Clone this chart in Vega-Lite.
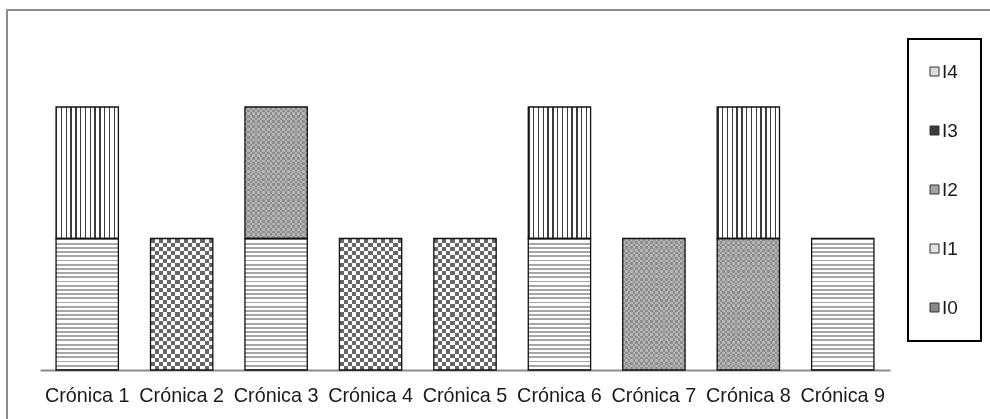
{
  "$schema": "https://vega.github.io/schema/vega-lite/v6.json",
  "autosize": "none",
  "padding": {"left": 7, "top": 10, "right": 0, "bottom": 0},
  "width": 1000,
  "height": 420,
  "background": "#ffffff",
  "config": {
    "view": {"stroke": "#8c8c8c", "strokeWidth": 2},
    "font": "Liberation Sans",
    "legend": {"strokeWidth": 2}
  },
  "data": {
    "values": [
      {"cronica": "Crónica 1", "series": "I1", "value": 1},
      {"cronica": "Crónica 1", "series": "I4", "value": 1},
      {"cronica": "Crónica 2", "series": "I0", "value": 1},
      {"cronica": "Crónica 3", "series": "I1", "value": 1},
      {"cronica": "Crónica 3", "series": "I2", "value": 1},
      {"cronica": "Crónica 4", "series": "I0", "value": 1},
      {"cronica": "Crónica 5", "series": "I0", "value": 1},
      {"cronica": "Crónica 6", "series": "I1", "value": 1},
      {"cronica": "Crónica 6", "series": "I4", "value": 1},
      {"cronica": "Crónica 7", "series": "I2", "value": 1},
      {"cronica": "Crónica 8", "series": "I2", "value": 1},
      {"cronica": "Crónica 8", "series": "I4", "value": 1},
      {"cronica": "Crónica 9", "series": "I1", "value": 1}
    ]
  },
  "transform": [
    {"stack": "value", "groupby": ["cronica"], "sort": [{"field": "series", "order": "ascending"}], "as": ["v0", "v1"]}
  ],
  "encoding": {
    "x": {
      "field": "cronica",
      "type": "nominal",
      "sort": null,
      "scale": {"range": [33, 883], "paddingInner": 0.34, "paddingOuter": 0.17},
      "axis": {
        "title": null,
        "labelAngle": 0,
        "ticks": false,
        "domainColor": "#8c8c8c",
        "domainWidth": 2,
        "labelFontSize": 19.8,
        "labelFont": "Liberation Sans",
        "labelColor": "#1a1a1a",
        "labelPadding": 15,
        "offset": -60
      }
    },
    "y": {
      "field": "v0",
      "type": "quantitative",
      "scale": {"domain": [0, 2], "range": [360, 97], "nice": false, "zero": true},
      "axis": null
    },
    "y2": {"field": "v1"}
  },
  "layer": [
    {
      "mark": {"type": "bar", "strokeWidth": 0},
      "encoding": {
        "color": {
          "field": "series",
          "type": "nominal",
          "scale": {
            "domain": ["I4", "I3", "I2", "I1", "I0"],
            "range": ["#dcdcdc", "#3a3a3a", "#a2a2a2", "#e2e2e2", "#8a8a8a"]
          },
          "legend": {
            "orient": "none",
            "legendX": 901,
            "legendY": 29,
            "title": null,
            "symbolType": "square",
            "symbolSize": 81,
            "symbolStrokeColor": "#333",
            "symbolStrokeWidth": 1,
            "symbolOffset": -6,
            "labelFontSize": 19,
            "labelFont": "Liberation Sans",
            "labelColor": "#1a1a1a",
            "labelOffset": -2,
            "rowPadding": 39,
            "padding": 23,
            "strokeColor": "#000",
            "fillColor": "#fff"
          }
        }
      }
    },
    {
      "transform": [{"filter": "datum.series === 'I4'"}],
      "mark": {
        "type": "bar",
        "strokeWidth": 0,
        "fill": {"gradient": "linear", "x1": 0, "y1": 0, "x2": 1, "y2": 0, "stops": [
          {"offset": 0, "color": "#3c3c3c"}, {"offset": 0.022, "color": "#3c3c3c"}, {"offset": 0.022, "color": "#fff"}, {"offset": 0.077, "color": "#fff"},
          {"offset": 0.077, "color": "#3c3c3c"}, {"offset": 0.099, "color": "#3c3c3c"}, {"offset": 0.099, "color": "#fff"}, {"offset": 0.154, "color": "#fff"},
          {"offset": 0.154, "color": "#3c3c3c"}, {"offset": 0.176, "color": "#3c3c3c"}, {"offset": 0.176, "color": "#fff"}, {"offset": 0.231, "color": "#fff"},
          {"offset": 0.231, "color": "#3c3c3c"}, {"offset": 0.253, "color": "#3c3c3c"}, {"offset": 0.253, "color": "#fff"}, {"offset": 0.308, "color": "#fff"},
          {"offset": 0.308, "color": "#3c3c3c"}, {"offset": 0.33, "color": "#3c3c3c"}, {"offset": 0.33, "color": "#fff"}, {"offset": 0.385, "color": "#fff"},
          {"offset": 0.385, "color": "#3c3c3c"}, {"offset": 0.407, "color": "#3c3c3c"}, {"offset": 0.407, "color": "#fff"}, {"offset": 0.462, "color": "#fff"},
          {"offset": 0.462, "color": "#3c3c3c"}, {"offset": 0.484, "color": "#3c3c3c"}, {"offset": 0.484, "color": "#fff"}, {"offset": 0.539, "color": "#fff"},
          {"offset": 0.539, "color": "#3c3c3c"}, {"offset": 0.561, "color": "#3c3c3c"}, {"offset": 0.561, "color": "#fff"}, {"offset": 0.616, "color": "#fff"},
          {"offset": 0.616, "color": "#3c3c3c"}, {"offset": 0.638, "color": "#3c3c3c"}, {"offset": 0.638, "color": "#fff"}, {"offset": 0.693, "color": "#fff"},
          {"offset": 0.693, "color": "#3c3c3c"}, {"offset": 0.715, "color": "#3c3c3c"}, {"offset": 0.715, "color": "#fff"}, {"offset": 0.77, "color": "#fff"},
          {"offset": 0.77, "color": "#3c3c3c"}, {"offset": 0.792, "color": "#3c3c3c"}, {"offset": 0.792, "color": "#fff"}, {"offset": 0.847, "color": "#fff"},
          {"offset": 0.847, "color": "#3c3c3c"}, {"offset": 0.869, "color": "#3c3c3c"}, {"offset": 0.869, "color": "#fff"}, {"offset": 0.924, "color": "#fff"},
          {"offset": 0.924, "color": "#3c3c3c"}, {"offset": 0.946, "color": "#3c3c3c"}, {"offset": 0.946, "color": "#fff"}, {"offset": 1, "color": "#fff"}
        ]}
      }
    },
    {
      "transform": [{"filter": "datum.series === 'I1'"}],
      "mark": {
        "type": "bar",
        "strokeWidth": 0,
        "fill": {"gradient": "linear", "x1": 0, "y1": 0, "x2": 0, "y2": 1, "stops": [
          {"offset": 0, "color": "#a6a6a6"}, {"offset": 0.014, "color": "#a6a6a6"}, {"offset": 0.014, "color": "#fff"}, {"offset": 0.032, "color": "#fff"},
          {"offset": 0.032, "color": "#a6a6a6"}, {"offset": 0.046, "color": "#a6a6a6"}, {"offset": 0.046, "color": "#fff"}, {"offset": 0.064, "color": "#fff"},
          {"offset": 0.064, "color": "#a6a6a6"}, {"offset": 0.078, "color": "#a6a6a6"}, {"offset": 0.078, "color": "#fff"}, {"offset": 0.096, "color": "#fff"},
          {"offset": 0.096, "color": "#a6a6a6"}, {"offset": 0.11, "color": "#a6a6a6"}, {"offset": 0.11, "color": "#fff"}, {"offset": 0.128, "color": "#fff"},
          {"offset": 0.128, "color": "#a6a6a6"}, {"offset": 0.142, "color": "#a6a6a6"}, {"offset": 0.142, "color": "#fff"}, {"offset": 0.16, "color": "#fff"},
          {"offset": 0.16, "color": "#a6a6a6"}, {"offset": 0.174, "color": "#a6a6a6"}, {"offset": 0.174, "color": "#fff"}, {"offset": 0.192, "color": "#fff"},
          {"offset": 0.192, "color": "#a6a6a6"}, {"offset": 0.206, "color": "#a6a6a6"}, {"offset": 0.206, "color": "#fff"}, {"offset": 0.224, "color": "#fff"},
          {"offset": 0.224, "color": "#a6a6a6"}, {"offset": 0.238, "color": "#a6a6a6"}, {"offset": 0.238, "color": "#fff"}, {"offset": 0.256, "color": "#fff"},
          {"offset": 0.256, "color": "#a6a6a6"}, {"offset": 0.27, "color": "#a6a6a6"}, {"offset": 0.27, "color": "#fff"}, {"offset": 0.288, "color": "#fff"},
          {"offset": 0.288, "color": "#a6a6a6"}, {"offset": 0.302, "color": "#a6a6a6"}, {"offset": 0.302, "color": "#fff"}, {"offset": 0.32, "color": "#fff"},
          {"offset": 0.32, "color": "#a6a6a6"}, {"offset": 0.334, "color": "#a6a6a6"}, {"offset": 0.334, "color": "#fff"}, {"offset": 0.352, "color": "#fff"},
          {"offset": 0.352, "color": "#a6a6a6"}, {"offset": 0.366, "color": "#a6a6a6"}, {"offset": 0.366, "color": "#fff"}, {"offset": 0.384, "color": "#fff"},
          {"offset": 0.384, "color": "#a6a6a6"}, {"offset": 0.398, "color": "#a6a6a6"}, {"offset": 0.398, "color": "#fff"}, {"offset": 0.416, "color": "#fff"},
          {"offset": 0.416, "color": "#a6a6a6"}, {"offset": 0.43, "color": "#a6a6a6"}, {"offset": 0.43, "color": "#fff"}, {"offset": 0.448, "color": "#fff"},
          {"offset": 0.448, "color": "#a6a6a6"}, {"offset": 0.462, "color": "#a6a6a6"}, {"offset": 0.462, "color": "#fff"}, {"offset": 0.48, "color": "#fff"},
          {"offset": 0.48, "color": "#a6a6a6"}, {"offset": 0.494, "color": "#a6a6a6"}, {"offset": 0.494, "color": "#fff"}, {"offset": 0.512, "color": "#fff"},
          {"offset": 0.512, "color": "#a6a6a6"}, {"offset": 0.526, "color": "#a6a6a6"}, {"offset": 0.526, "color": "#fff"}, {"offset": 0.544, "color": "#fff"},
          {"offset": 0.544, "color": "#a6a6a6"}, {"offset": 0.558, "color": "#a6a6a6"}, {"offset": 0.558, "color": "#fff"}, {"offset": 0.576, "color": "#fff"},
          {"offset": 0.576, "color": "#a6a6a6"}, {"offset": 0.59, "color": "#a6a6a6"}, {"offset": 0.59, "color": "#fff"}, {"offset": 0.608, "color": "#fff"},
          {"offset": 0.608, "color": "#a6a6a6"}, {"offset": 0.622, "color": "#a6a6a6"}, {"offset": 0.622, "color": "#fff"}, {"offset": 0.64, "color": "#fff"},
          {"offset": 0.64, "color": "#a6a6a6"}, {"offset": 0.654, "color": "#a6a6a6"}, {"offset": 0.654, "color": "#fff"}, {"offset": 0.672, "color": "#fff"},
          {"offset": 0.672, "color": "#a6a6a6"}, {"offset": 0.686, "color": "#a6a6a6"}, {"offset": 0.686, "color": "#fff"}, {"offset": 0.704, "color": "#fff"},
          {"offset": 0.704, "color": "#a6a6a6"}, {"offset": 0.718, "color": "#a6a6a6"}, {"offset": 0.718, "color": "#fff"}, {"offset": 0.736, "color": "#fff"},
          {"offset": 0.736, "color": "#a6a6a6"}, {"offset": 0.75, "color": "#a6a6a6"}, {"offset": 0.75, "color": "#fff"}, {"offset": 0.768, "color": "#fff"},
          {"offset": 0.768, "color": "#a6a6a6"}, {"offset": 0.782, "color": "#a6a6a6"}, {"offset": 0.782, "color": "#fff"}, {"offset": 0.8, "color": "#fff"},
          {"offset": 0.8, "color": "#a6a6a6"}, {"offset": 0.814, "color": "#a6a6a6"}, {"offset": 0.814, "color": "#fff"}, {"offset": 0.832, "color": "#fff"},
          {"offset": 0.832, "color": "#a6a6a6"}, {"offset": 0.846, "color": "#a6a6a6"}, {"offset": 0.846, "color": "#fff"}, {"offset": 0.864, "color": "#fff"},
          {"offset": 0.864, "color": "#a6a6a6"}, {"offset": 0.878, "color": "#a6a6a6"}, {"offset": 0.878, "color": "#fff"}, {"offset": 0.896, "color": "#fff"},
          {"offset": 0.896, "color": "#a6a6a6"}, {"offset": 0.91, "color": "#a6a6a6"}, {"offset": 0.91, "color": "#fff"}, {"offset": 0.928, "color": "#fff"},
          {"offset": 0.928, "color": "#a6a6a6"}, {"offset": 0.942, "color": "#a6a6a6"}, {"offset": 0.942, "color": "#fff"}, {"offset": 0.96, "color": "#fff"},
          {"offset": 0.96, "color": "#a6a6a6"}, {"offset": 0.974, "color": "#a6a6a6"}, {"offset": 0.974, "color": "#fff"}, {"offset": 0.992, "color": "#fff"},
          {"offset": 0.992, "color": "#a6a6a6"}, {"offset": 1, "color": "#a6a6a6"}
        ]}
      }
    },
    {
      "transform": [{"filter": "datum.series === 'I2'"}],
      "mark": {
        "type": "bar",
        "strokeWidth": 0,
        "fill": {"gradient": "linear", "x1": 0, "y1": 0, "x2": 0, "y2": 1, "stops": [
          {"offset": 0, "color": "#000"}, {"offset": 0.02, "color": "#000"}, {"offset": 0.02, "color": "#fff"}, {"offset": 0.04, "color": "#fff"},
          {"offset": 0.04, "color": "#000"}, {"offset": 0.06, "color": "#000"}, {"offset": 0.06, "color": "#fff"}, {"offset": 0.08, "color": "#fff"},
          {"offset": 0.08, "color": "#000"}, {"offset": 0.1, "color": "#000"}, {"offset": 0.1, "color": "#fff"}, {"offset": 0.12, "color": "#fff"},
          {"offset": 0.12, "color": "#000"}, {"offset": 0.14, "color": "#000"}, {"offset": 0.14, "color": "#fff"}, {"offset": 0.16, "color": "#fff"},
          {"offset": 0.16, "color": "#000"}, {"offset": 0.18, "color": "#000"}, {"offset": 0.18, "color": "#fff"}, {"offset": 0.2, "color": "#fff"},
          {"offset": 0.2, "color": "#000"}, {"offset": 0.22, "color": "#000"}, {"offset": 0.22, "color": "#fff"}, {"offset": 0.24, "color": "#fff"},
          {"offset": 0.24, "color": "#000"}, {"offset": 0.26, "color": "#000"}, {"offset": 0.26, "color": "#fff"}, {"offset": 0.28, "color": "#fff"},
          {"offset": 0.28, "color": "#000"}, {"offset": 0.3, "color": "#000"}, {"offset": 0.3, "color": "#fff"}, {"offset": 0.32, "color": "#fff"},
          {"offset": 0.32, "color": "#000"}, {"offset": 0.34, "color": "#000"}, {"offset": 0.34, "color": "#fff"}, {"offset": 0.36, "color": "#fff"},
          {"offset": 0.36, "color": "#000"}, {"offset": 0.38, "color": "#000"}, {"offset": 0.38, "color": "#fff"}, {"offset": 0.4, "color": "#fff"},
          {"offset": 0.4, "color": "#000"}, {"offset": 0.42, "color": "#000"}, {"offset": 0.42, "color": "#fff"}, {"offset": 0.44, "color": "#fff"},
          {"offset": 0.44, "color": "#000"}, {"offset": 0.46, "color": "#000"}, {"offset": 0.46, "color": "#fff"}, {"offset": 0.48, "color": "#fff"},
          {"offset": 0.48, "color": "#000"}, {"offset": 0.5, "color": "#000"}, {"offset": 0.5, "color": "#fff"}, {"offset": 0.52, "color": "#fff"},
          {"offset": 0.52, "color": "#000"}, {"offset": 0.54, "color": "#000"}, {"offset": 0.54, "color": "#fff"}, {"offset": 0.56, "color": "#fff"},
          {"offset": 0.56, "color": "#000"}, {"offset": 0.58, "color": "#000"}, {"offset": 0.58, "color": "#fff"}, {"offset": 0.6, "color": "#fff"},
          {"offset": 0.6, "color": "#000"}, {"offset": 0.62, "color": "#000"}, {"offset": 0.62, "color": "#fff"}, {"offset": 0.64, "color": "#fff"},
          {"offset": 0.64, "color": "#000"}, {"offset": 0.66, "color": "#000"}, {"offset": 0.66, "color": "#fff"}, {"offset": 0.68, "color": "#fff"},
          {"offset": 0.68, "color": "#000"}, {"offset": 0.7, "color": "#000"}, {"offset": 0.7, "color": "#fff"}, {"offset": 0.72, "color": "#fff"},
          {"offset": 0.72, "color": "#000"}, {"offset": 0.74, "color": "#000"}, {"offset": 0.74, "color": "#fff"}, {"offset": 0.76, "color": "#fff"},
          {"offset": 0.76, "color": "#000"}, {"offset": 0.78, "color": "#000"}, {"offset": 0.78, "color": "#fff"}, {"offset": 0.8, "color": "#fff"},
          {"offset": 0.8, "color": "#000"}, {"offset": 0.82, "color": "#000"}, {"offset": 0.82, "color": "#fff"}, {"offset": 0.84, "color": "#fff"},
          {"offset": 0.84, "color": "#000"}, {"offset": 0.86, "color": "#000"}, {"offset": 0.86, "color": "#fff"}, {"offset": 0.88, "color": "#fff"},
          {"offset": 0.88, "color": "#000"}, {"offset": 0.9, "color": "#000"}, {"offset": 0.9, "color": "#fff"}, {"offset": 0.92, "color": "#fff"},
          {"offset": 0.92, "color": "#000"}, {"offset": 0.94, "color": "#000"}, {"offset": 0.94, "color": "#fff"}, {"offset": 0.96, "color": "#fff"},
          {"offset": 0.96, "color": "#000"}, {"offset": 0.98, "color": "#000"}, {"offset": 0.98, "color": "#fff"}, {"offset": 1, "color": "#fff"}
        ]}
      }
    },
    {
      "transform": [{"filter": "datum.series === 'I2'"}],
      "mark": {
        "type": "bar",
        "blend": "difference",
        "strokeWidth": 0,
        "fill": {"gradient": "linear", "x1": 0, "y1": 0, "x2": 1, "y2": 0, "stops": [
          {"offset": 0, "color": "#000"}, {"offset": 0.04, "color": "#000"}, {"offset": 0.04, "color": "#fff"}, {"offset": 0.08, "color": "#fff"},
          {"offset": 0.08, "color": "#000"}, {"offset": 0.12, "color": "#000"}, {"offset": 0.12, "color": "#fff"}, {"offset": 0.16, "color": "#fff"},
          {"offset": 0.16, "color": "#000"}, {"offset": 0.2, "color": "#000"}, {"offset": 0.2, "color": "#fff"}, {"offset": 0.24, "color": "#fff"},
          {"offset": 0.24, "color": "#000"}, {"offset": 0.28, "color": "#000"}, {"offset": 0.28, "color": "#fff"}, {"offset": 0.32, "color": "#fff"},
          {"offset": 0.32, "color": "#000"}, {"offset": 0.36, "color": "#000"}, {"offset": 0.36, "color": "#fff"}, {"offset": 0.4, "color": "#fff"},
          {"offset": 0.4, "color": "#000"}, {"offset": 0.44, "color": "#000"}, {"offset": 0.44, "color": "#fff"}, {"offset": 0.48, "color": "#fff"},
          {"offset": 0.48, "color": "#000"}, {"offset": 0.52, "color": "#000"}, {"offset": 0.52, "color": "#fff"}, {"offset": 0.56, "color": "#fff"},
          {"offset": 0.56, "color": "#000"}, {"offset": 0.6, "color": "#000"}, {"offset": 0.6, "color": "#fff"}, {"offset": 0.64, "color": "#fff"},
          {"offset": 0.64, "color": "#000"}, {"offset": 0.68, "color": "#000"}, {"offset": 0.68, "color": "#fff"}, {"offset": 0.72, "color": "#fff"},
          {"offset": 0.72, "color": "#000"}, {"offset": 0.76, "color": "#000"}, {"offset": 0.76, "color": "#fff"}, {"offset": 0.8, "color": "#fff"},
          {"offset": 0.8, "color": "#000"}, {"offset": 0.84, "color": "#000"}, {"offset": 0.84, "color": "#fff"}, {"offset": 0.88, "color": "#fff"},
          {"offset": 0.88, "color": "#000"}, {"offset": 0.92, "color": "#000"}, {"offset": 0.92, "color": "#fff"}, {"offset": 0.96, "color": "#fff"},
          {"offset": 0.96, "color": "#000"}, {"offset": 1, "color": "#000"}
        ]}
      }
    },
    {
      "transform": [{"filter": "datum.series === 'I2'"}],
      "mark": {"type": "bar", "fill": "#a7a7a7", "fillOpacity": 0.851, "strokeWidth": 0}
    },
    {
      "transform": [{"filter": "datum.series === 'I0'"}],
      "mark": {
        "type": "bar",
        "strokeWidth": 0,
        "fill": {"gradient": "linear", "x1": 0, "y1": 0, "x2": 0, "y2": 1, "stops": [
          {"offset": 0, "color": "#000"}, {"offset": 0.03125, "color": "#000"}, {"offset": 0.03125, "color": "#fff"}, {"offset": 0.0625, "color": "#fff"},
          {"offset": 0.0625, "color": "#000"}, {"offset": 0.09375, "color": "#000"}, {"offset": 0.09375, "color": "#fff"}, {"offset": 0.125, "color": "#fff"},
          {"offset": 0.125, "color": "#000"}, {"offset": 0.15625, "color": "#000"}, {"offset": 0.15625, "color": "#fff"}, {"offset": 0.1875, "color": "#fff"},
          {"offset": 0.1875, "color": "#000"}, {"offset": 0.21875, "color": "#000"}, {"offset": 0.21875, "color": "#fff"}, {"offset": 0.25, "color": "#fff"},
          {"offset": 0.25, "color": "#000"}, {"offset": 0.28125, "color": "#000"}, {"offset": 0.28125, "color": "#fff"}, {"offset": 0.3125, "color": "#fff"},
          {"offset": 0.3125, "color": "#000"}, {"offset": 0.34375, "color": "#000"}, {"offset": 0.34375, "color": "#fff"}, {"offset": 0.375, "color": "#fff"},
          {"offset": 0.375, "color": "#000"}, {"offset": 0.40625, "color": "#000"}, {"offset": 0.40625, "color": "#fff"}, {"offset": 0.4375, "color": "#fff"},
          {"offset": 0.4375, "color": "#000"}, {"offset": 0.46875, "color": "#000"}, {"offset": 0.46875, "color": "#fff"}, {"offset": 0.5, "color": "#fff"},
          {"offset": 0.5, "color": "#000"}, {"offset": 0.53125, "color": "#000"}, {"offset": 0.53125, "color": "#fff"}, {"offset": 0.5625, "color": "#fff"},
          {"offset": 0.5625, "color": "#000"}, {"offset": 0.59375, "color": "#000"}, {"offset": 0.59375, "color": "#fff"}, {"offset": 0.625, "color": "#fff"},
          {"offset": 0.625, "color": "#000"}, {"offset": 0.65625, "color": "#000"}, {"offset": 0.65625, "color": "#fff"}, {"offset": 0.6875, "color": "#fff"},
          {"offset": 0.6875, "color": "#000"}, {"offset": 0.71875, "color": "#000"}, {"offset": 0.71875, "color": "#fff"}, {"offset": 0.75, "color": "#fff"},
          {"offset": 0.75, "color": "#000"}, {"offset": 0.78125, "color": "#000"}, {"offset": 0.78125, "color": "#fff"}, {"offset": 0.8125, "color": "#fff"},
          {"offset": 0.8125, "color": "#000"}, {"offset": 0.84375, "color": "#000"}, {"offset": 0.84375, "color": "#fff"}, {"offset": 0.875, "color": "#fff"},
          {"offset": 0.875, "color": "#000"}, {"offset": 0.90625, "color": "#000"}, {"offset": 0.90625, "color": "#fff"}, {"offset": 0.9375, "color": "#fff"},
          {"offset": 0.9375, "color": "#000"}, {"offset": 0.96875, "color": "#000"}, {"offset": 0.96875, "color": "#fff"}, {"offset": 1, "color": "#fff"}
        ]}
      }
    },
    {
      "transform": [{"filter": "datum.series === 'I0'"}],
      "mark": {
        "type": "bar",
        "blend": "difference",
        "strokeWidth": 0,
        "fill": {"gradient": "linear", "x1": 0, "y1": 0, "x2": 1, "y2": 0, "stops": [
          {"offset": 0, "color": "#000"}, {"offset": 0.0667, "color": "#000"}, {"offset": 0.0667, "color": "#fff"}, {"offset": 0.1333, "color": "#fff"},
          {"offset": 0.1333, "color": "#000"}, {"offset": 0.2, "color": "#000"}, {"offset": 0.2, "color": "#fff"}, {"offset": 0.2667, "color": "#fff"},
          {"offset": 0.2667, "color": "#000"}, {"offset": 0.3333, "color": "#000"}, {"offset": 0.3333, "color": "#fff"}, {"offset": 0.4, "color": "#fff"},
          {"offset": 0.4, "color": "#000"}, {"offset": 0.4667, "color": "#000"}, {"offset": 0.4667, "color": "#fff"}, {"offset": 0.5333, "color": "#fff"},
          {"offset": 0.5333, "color": "#000"}, {"offset": 0.6, "color": "#000"}, {"offset": 0.6, "color": "#fff"}, {"offset": 0.6667, "color": "#fff"},
          {"offset": 0.6667, "color": "#000"}, {"offset": 0.7333, "color": "#000"}, {"offset": 0.7333, "color": "#fff"}, {"offset": 0.8, "color": "#fff"},
          {"offset": 0.8, "color": "#000"}, {"offset": 0.8667, "color": "#000"}, {"offset": 0.8667, "color": "#fff"}, {"offset": 0.9333, "color": "#fff"},
          {"offset": 0.9333, "color": "#000"}, {"offset": 1, "color": "#000"}
        ]}
      }
    },
    {
      "transform": [{"filter": "datum.series === 'I0'"}],
      "mark": {"type": "bar", "fill": "#ffffff", "fillOpacity": 0.4, "strokeWidth": 0}
    },
    {
      "mark": {"type": "bar", "fill": "#ffffff", "fillOpacity": 0, "stroke": "#111111", "strokeWidth": 1.3}
    }
  ]
}
